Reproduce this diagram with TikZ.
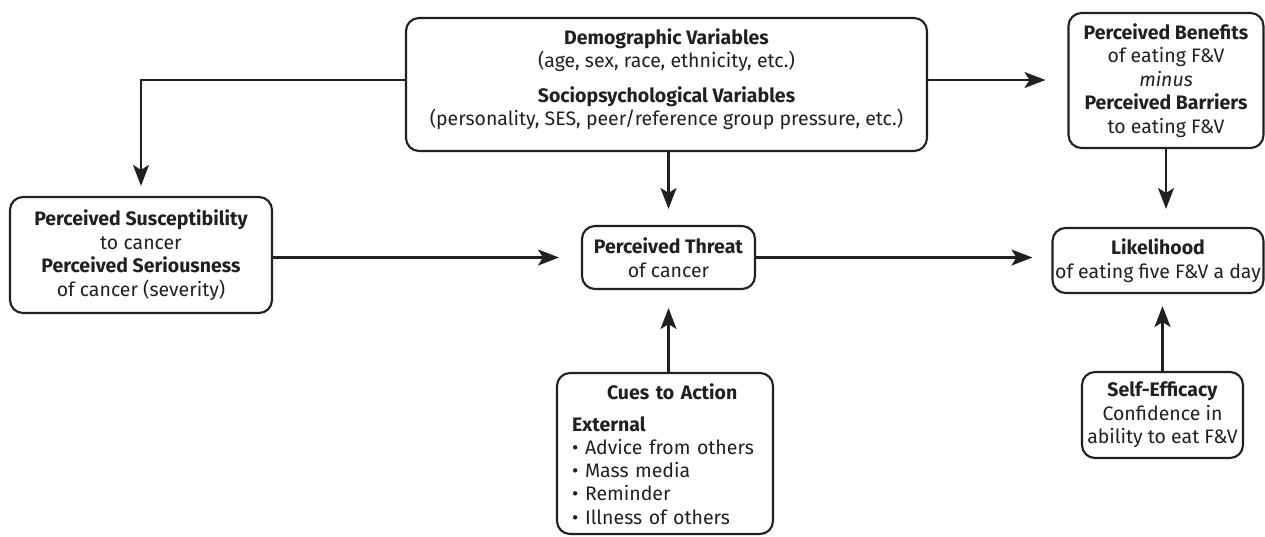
\documentclass[tikz,border=0pt]{standalone}
\usepackage{fontspec}
\setmainfont{Fira Sans}
\usetikzlibrary{arrows.meta}
\definecolor{ink}{HTML}{231F20}

\begin{document}
\begin{tikzpicture}[x=1pt,y=-1pt,
  txt/.style={text=ink, inner sep=0pt, font=\fontsize{19.5}{23.5}\selectfont},
  box/.style={txt, draw=ink, line width=2.1pt, rounded corners=13pt, align=center},
  link/.style={draw=ink, line width=2.1pt,
    -{Stealth[length=21pt,width=16pt,inset=5pt]}, shorten >=18pt},
]
\useasboundingbox (0,0) rectangle (1265,536);

% model constructs
\node[box, minimum width=521pt, minimum height=133pt] (demo) at (666.5,84.5) {};
\node[txt, align=center] (demotext) at (666.5,79)
  {\textbf{Demographic Variables}\\(age, sex, race, ethnicity, etc.)\\[11pt]
   \textbf{Sociopsychological Variables}\\(personality, SES, peer/reference group pressure, etc.)};

\node[box, minimum width=195pt, minimum height=135pt] (benefits) at (1166,80.5)
  {\textbf{Perceived Benefits}\\of eating F\&V\\\textit{minus}\\
   \textbf{Perceived Barriers}\\to eating F\&V};

\node[box, minimum width=262pt, minimum height=116pt] (susc) at (141,255)
  {\textbf{Perceived Susceptibility}\\to cancer\\
   \textbf{Perceived Seriousness}\\of cancer (severity)};

\node[box, minimum width=173pt, minimum height=63pt] (threat) at (668.5,257.5)
  {\textbf{Perceived Threat}\\of cancer};

\node[box, minimum width=211pt, minimum height=65pt] (likely) at (1158,260.5)
  {\textbf{Likelihood}\\of eating five F\&V a day};

\node[box, minimum width=161pt, minimum height=86pt] (selfeff) at (1162.5,415)
  {\textbf{Self-Efficacy}\\Confidence in\\ability to eat F\&V};

\node[box, minimum width=216pt, minimum height=161pt] (cues) at (665,453.5) {};
\node[txt, text width=200pt, anchor=north west,
  font=\fontsize{19.5}{23.2}\selectfont] (cuestext) at (572,383)
  {\centering\textbf{Cues to Action}\par\vspace{9pt}
   \raggedright\textbf{External}\par
   \textbullet\ Advice from others\par
   \textbullet\ Mass media\par
   \textbullet\ Reminder\par
   \textbullet\ Illness of others\par};

% influences
\draw[link, shorten >=10pt] ([yshift=4.5pt]demo.west) -| (susc.north);
\draw[link, shorten >=22pt] ([yshift=4.5pt]demo.east) -- ([yshift=4.5pt]demo.east -| benefits.west);
\draw[link, shorten >=16pt] (demo.south -| threat.north) -- (threat.north);
\draw[link] (benefits.south) -- (benefits.south |- likely.north);
\draw[link, shorten >=22pt] (susc.east |- threat.west) -- (threat.west);
\draw[link, shorten >=19pt] (threat.east) -- (threat.east -| likely.west);
\draw[link] (cues.north -| threat.south) -- (threat.south);
\draw[link, shorten >=12pt] (selfeff.north) -- (selfeff.north |- likely.south);
\end{tikzpicture}
\end{document}
